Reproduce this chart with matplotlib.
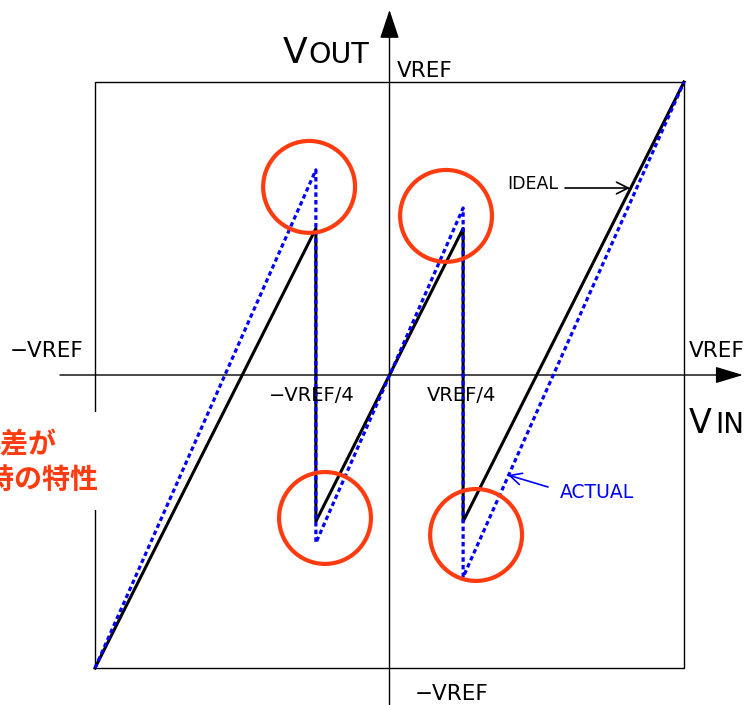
import matplotlib
matplotlib.use("Agg")
import matplotlib.pyplot as plt
import matplotlib.transforms as mtransforms
from matplotlib.patches import Ellipse, Rectangle

plt.rcParams["font.family"] = ["DejaVu Sans"]
JP = ["Noto Sans CJK JP", "DejaVu Sans"]

# transfer characteristic, normalised to VREF
vin_pts = [-1, -0.25, -0.25, 0.25, 0.25, 1]
vout_ideal = [-1, 0.5, -0.5, 0.5, -0.5, 1]
vout_actual = [-1, 0.70, -0.573, 0.57, -0.69, 1]

# red circles marking the error points
circle_x = [-0.273, 0.192, -0.219, 0.294]
circle_y = [0.642, 0.543, -0.488, -0.546]
circle_r = 0.156

W, H = 751, 705
fig = plt.figure(figsize=(W / 100, H / 100), dpi=100)
ax = fig.add_axes([95 / W, 37 / H, 589 / W, 586 / H])
ax.set_xlim(-1, 1)
ax.set_ylim(-1, 1)
ax.axis("off")

# image pixel coordinates (origin top-left) for labels
pix = mtransforms.Affine2D().scale(1 / W, -1 / H).translate(0, 1) + fig.transFigure

# frame
ax.plot([-1, 1, 1, -1, -1], [-1, -1, 1, 1, -1], color="black", lw=1.0, clip_on=False, zorder=2)

# axes with arrows
ax.annotate("", xy=(1.2, 0), xytext=(-1.119, 0),
            arrowprops=dict(arrowstyle="-|>,head_length=0.86,head_width=0.26", mutation_scale=20,
                            lw=1.0, color="black", shrinkA=0, shrinkB=0),
            annotation_clip=False, zorder=2)
ax.annotate("", xy=(0, 1.246), xytext=(0, -1.14),
            arrowprops=dict(arrowstyle="-|>,head_length=0.9,head_width=0.3", mutation_scale=20,
                            lw=1.0, color="black", shrinkA=0, shrinkB=0),
            annotation_clip=False, zorder=2)

# ideal and actual curves
ax.plot(vin_pts, vout_ideal, color="black", lw=2.2, clip_on=False, zorder=3)
ax.plot(vin_pts, vout_actual, color="#0000ff", lw=2.3, ls=(0, (1.4, 1.0)), clip_on=False, zorder=4)

# circles
for cx, cy in zip(circle_x, circle_y):
    ax.add_patch(Ellipse((cx, cy), 2 * circle_r, 2 * circle_r * 294.5 / 293, fill=False,
                         edgecolor="#ff3b0f", lw=3.0, zorder=5, clip_on=False))

# axis labels
fig.text(283, 63, "V", transform=pix, fontsize=26, va="baseline", ha="left")
fig.text(308, 63, "OUT", transform=pix, fontsize=20.5, va="baseline", ha="left")
fig.text(689, 433, "V", transform=pix, fontsize=24, va="baseline", ha="left")
fig.text(715, 433, "IN", transform=pix, fontsize=20, va="baseline", ha="left")

fs = 15.5
fig.text(397, 77, "VREF", transform=pix, fontsize=fs, va="baseline", ha="left")
fig.text(10, 357, "\u2212VREF", transform=pix, fontsize=fs, va="baseline", ha="left")
fig.text(689, 357, "VREF", transform=pix, fontsize=fs, va="baseline", ha="left")
fig.text(415, 700, "\u2212VREF", transform=pix, fontsize=fs, va="baseline", ha="left")
fig.text(312, 401, "\u2212VREF/4", transform=pix, fontsize=14, va="baseline", ha="center")
fig.text(462, 401, "VREF/4", transform=pix, fontsize=14, va="baseline", ha="center")

# IDEAL / ACTUAL callouts
fig.text(507, 189, "IDEAL", transform=pix, fontsize=12.5, va="baseline", ha="left")
ax.annotate("", xy=(630, 188), xytext=(565, 188), xycoords=pix, textcoords=pix,
            arrowprops=dict(arrowstyle="->,head_length=0.6,head_width=0.3", mutation_scale=14,
                            lw=1.2, color="black", shrinkA=0, shrinkB=0),
            annotation_clip=False, zorder=6)
fig.text(560, 498, "ACTUAL", transform=pix, fontsize=13.5, va="baseline", ha="left", color="#0000ff")
ax.annotate("", xy=(508, 475), xytext=(548, 487), xycoords=pix, textcoords=pix,
            arrowprops=dict(arrowstyle="->,head_length=0.6,head_width=0.3", mutation_scale=14,
                            lw=1.2, color="#0000ff", shrinkA=0, shrinkB=0),
            annotation_clip=False, zorder=6)

# note on the left, partly cut off by the image edge
fig.patches.append(Rectangle((-5, 412), 104, 98, transform=pix, facecolor="white",
                             edgecolor="none", zorder=10))
fig.text(14, 463, "誤差が\nある時の特性", transform=pix, fontsize=20.2, fontweight="bold",
         family=JP, color="#ff3b0f", ha="center", va="center", multialignment="center",
         linespacing=1.3, zorder=11)

fig.savefig("out.png", dpi=100)
